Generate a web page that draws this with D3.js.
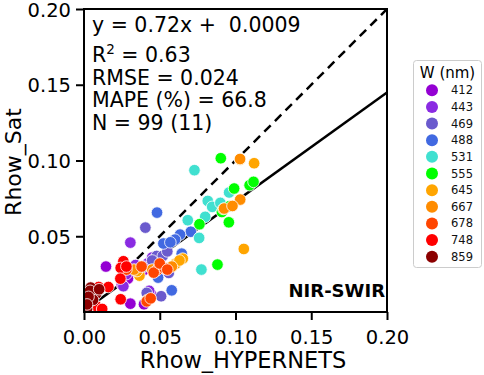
<!DOCTYPE html>
<html><head><meta charset="utf-8">
<script src="https://cdn.jsdelivr.net/npm/d3@7"></script>
<style>body{margin:0;background:#fff}svg{font-family:"DejaVu Sans",sans-serif}</style>
</head><body><svg id="c" width="484" height="375"></svg>
<script>
const bands = ["412","443","469","488","531","555","645","667","678","748","859"];
const bandColors = ["#9400D3","#8A2BE2","#6A5ACD","#4169E1","#40E0D0","#00FF00","#FFA500","#FF8C00","#FF4500","#FF0000","#8B0000"];
// [x (HYPERNETS), y (Sat)] per band
const pts412 = [[0.0145,0.030],[0.0306,0.0055],[0.0396,0.0051],[0.029,0.022],[0.035,0.030],[0.041,0.031],[0.025,0.018],[0.040,0.028],[0.044,0.012]];
const pts443 = [[0.0306,0.0458],[0.028,0.025],[0.042,0.032],[0.039,0.030],[0.045,0.036],[0.048,0.035],[0.034,0.031],[0.026,0.017],[0.043,0.014]];
const pts469 = [[0.0405,0.0557],[0.0414,0.0126],[0.0509,0.0104],[0.056,0.0258],[0.048,0.037],[0.052,0.037],[0.045,0.034],[0.055,0.040],[0.038,0.029]];
const pts488 = [[0.0482,0.0656],[0.0705,0.053],[0.0634,0.0511],[0.0601,0.0478],[0.0524,0.0452],[0.0645,0.0385],[0.0489,0.0227],[0.0579,0.0143],[0.057,0.046]];
const pts531 = [[0.0729,0.0936],[0.0958,0.0789],[0.0817,0.0733],[0.0846,0.0694],[0.0685,0.0606],[0.080,0.0628],[0.076,0.0489],[0.0775,0.028],[0.090,0.072]];
const pts555 = [[0.0903,0.1015],[0.0991,0.0815],[0.1093,0.0837],[0.1119,0.0859],[0.096,0.0698],[0.0956,0.0592],[0.0762,0.0579],[0.0881,0.0313],[0.091,0.066]];
const pts645 = [[0.1123,0.0982],[0.1055,0.0416],[0.0652,0.0352],[0.0606,0.0319],[0.0366,0.024],[0.092,0.068],[0.063,0.034],[0.035,0.027],[0.103,0.1005]];
const pts667 = [[0.103,0.101],[0.1031,0.0742],[0.0925,0.0683],[0.058,0.030],[0.045,0.028],[0.033,0.028],[0.098,0.070],[0.042,0.008],[0.050,0.030]];
const pts678 = [[0.048,0.0275],[0.053,0.029],[0.0414,0.007],[0.044,0.009],[0.046,0.026],[0.050,0.032],[0.028,0.028],[0.038,0.030],[0.055,0.028]];
const pts748 = [[0.026,0.0335],[0.0242,0.0291],[0.0242,0.0084],[0.0097,0.0165],[0.0161,0.0165],[0.024,0.022],[0.028,0.030],[0.008,0.004],[0.012,0.002]];
const pts859 = [[0.0044,0.0161],[0.0035,0.0066],[0.002,0.002],[0.008,0.012],[0.006,0.008],[0.004,0.014],[0.003,0.010],[0.010,0.015],[0.002,0.005]];
const allPts = [pts412,pts443,pts469,pts488,pts531,pts555,pts645,pts667,pts678,pts748,pts859];
const xTicks = [0,0.05,0.10,0.15,0.20];
const yTicks = [0.05,0.10,0.15,0.20];
const slope = 0.72, intercept = 0.0009;
const statLines = ["y = 0.72x +  0.0009","R2 = 0.63","RMSE = 0.024","MAPE (%) = 66.8","N = 99 (11)"];

const svg = d3.select("#c");
const L=84,R=387,T=9,B=312;
const x = d3.scaleLinear().domain([0,0.2]).range([L,R]);
const y = d3.scaleLinear().domain([0,0.2]).range([B,T]);

// axes
const xa = svg.append("g").attr("transform",`translate(0,${B})`)
  .call(d3.axisBottom(x).tickValues(xTicks).tickFormat(d3.format(".2f")).tickSize(8).tickPadding(6));
const ya = svg.append("g").attr("transform",`translate(${L},0)`)
  .call(d3.axisLeft(y).tickValues(yTicks).tickFormat(d3.format(".2f")).tickSize(8).tickPadding(5));
[xa,ya].forEach(a=>{
  a.select(".domain").remove();
  a.selectAll(".tick line").attr("stroke","#000").attr("stroke-width",2);
  a.selectAll(".tick text").attr("font-size",19.5).attr("fill","#000").attr("font-family","DejaVu Sans");
});
xa.selectAll(".tick text").attr("dy","0.9em");
ya.selectAll(".tick text").attr("dy","0.36em");

const clip = svg.append("clipPath").attr("id","pc").append("rect").attr("x",L).attr("y",T).attr("width",R-L).attr("height",B-T);
const g = svg.append("g").attr("clip-path","url(#pc)");

// 1:1 line
g.append("line").attr("x1",x(0)).attr("y1",y(0)).attr("x2",x(0.2)).attr("y2",y(0.2))
  .attr("stroke","#000").attr("stroke-width",2.5).attr("stroke-dasharray","9,6");
// fit line
g.append("line").attr("x1",x(0)).attr("y1",y(intercept)).attr("x2",x(0.2)).attr("y2",y(slope*0.2+intercept))
  .attr("stroke","#000").attr("stroke-width",2.5);

// points
allPts.forEach((arr,i)=>{
  g.selectAll(null).data(arr).enter().append("circle")
    .attr("cx",d=>x(d[0])).attr("cy",d=>y(d[1])).attr("r",5.8)
    .attr("fill",bandColors[i]).attr("stroke","#fff").attr("stroke-width",0.8);
});

// frame
svg.append("rect").attr("x",L).attr("y",T).attr("width",R-L).attr("height",B-T)
  .attr("fill","none").attr("stroke","#000").attr("stroke-width",2);

// stats text
const baselines=[32,62,85,107,130];
statLines.forEach((s,i)=>{
  const t = svg.append("text").attr("x",92).attr("y",baselines[i]).attr("font-size",20.5).attr("fill","#000")
    .attr("xml:space","preserve").style("white-space","pre");
  if(i===1){
    t.append("tspan").text("R");
    t.append("tspan").attr("font-size",13.5).attr("dy",-8).text("2");
    t.append("tspan").attr("dy",8).text(" = 0.63");
  } else t.text(s);
});

svg.append("text").attr("x",385).attr("y",297).attr("text-anchor","end").attr("font-size",18)
  .attr("font-weight","bold").attr("fill","#000").text("NIR-SWIR");

// axis labels
svg.append("text").attr("x",243).attr("y",368).attr("text-anchor","middle").attr("font-size",22.5).attr("fill","#000").text("Rhow_HYPERNETS");
svg.append("text").attr("transform",`translate(20.5,162) rotate(-90)`).attr("text-anchor","middle").attr("font-size",22).attr("fill","#000").text("Rhow_Sat");

// legend
const lg = svg.append("g");
lg.append("rect").attr("x",413.5).attr("y",60.5).attr("width",68).attr("height",207).attr("rx",3)
  .attr("fill","#fff").attr("stroke","#ccc").attr("stroke-width",1);
lg.append("text").attr("x",447.5).attr("y",78).attr("text-anchor","middle").attr("font-size",15).attr("fill","#000").text("W (nm)");
const ly = d3.scaleBand().domain(bands).range([82,265]);
bands.forEach((b,i)=>{
  const cy = ly(b)+ly.bandwidth()/2;
  lg.append("circle").attr("cx",432).attr("cy",cy).attr("r",6).attr("fill",bandColors[i]);
  lg.append("text").attr("x",473).attr("y",cy).attr("dy","0.35em").attr("text-anchor","end").attr("font-size",11.5).attr("fill","#111").text(b);
});
</script></body></html>
